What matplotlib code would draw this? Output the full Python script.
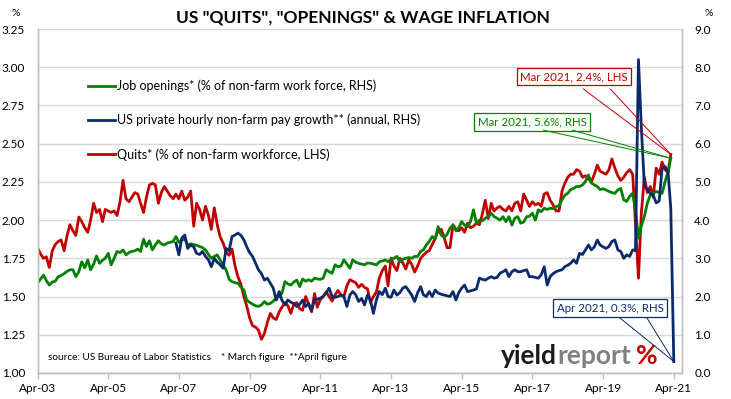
import matplotlib
matplotlib.use("Agg")
import matplotlib.pyplot as plt
import matplotlib.dates as mdates
from matplotlib.patches import ConnectionPatch
from matplotlib.lines import Line2D
import pandas as pd
import numpy as np

plt.rcParams['font.family'] = ['Lato', 'DejaVu Sans']

# ---------------- data (monthly) ----------------
start_month = "2003-04-01"

quits = [  # LHS, Apr-2003 .. Mar-2021
    1.82, 1.78, 1.75, 1.76, 1.69, 1.80, 1.84, 1.86, 1.87, 1.80, 1.90, 1.97,
    1.93, 1.90, 2.02, 1.99, 1.95, 1.92, 2.00, 2.11, 2.05, 2.07, 1.99, 2.07,
    2.06, 2.05, 2.06, 2.03, 2.12, 2.26, 2.14, 2.12, 2.15, 2.18, 2.17, 2.11,
    2.05, 2.15, 2.23, 2.24, 2.23, 2.11, 2.18, 2.22, 2.19, 2.16, 2.14, 2.17,
    2.14, 2.19, 2.13, 2.15, 2.19, 1.96, 2.11, 2.07, 2.00, 2.09, 2.03, 1.94,
    2.08, 1.97, 1.89, 1.85, 1.79, 1.77, 1.81, 1.70, 1.63, 1.58, 1.50, 1.44,
    1.36, 1.31, 1.30, 1.28, 1.22, 1.26, 1.33, 1.39, 1.36, 1.35, 1.40, 1.43,
    1.46, 1.44, 1.39, 1.45, 1.46, 1.42, 1.41, 1.50, 1.45, 1.40, 1.52, 1.43,
    1.48, 1.50, 1.53, 1.50, 1.47, 1.51, 1.54, 1.51, 1.50, 1.57, 1.61, 1.60,
    1.59, 1.56, 1.58, 1.56, 1.55, 1.46, 1.50, 1.53, 1.62, 1.67, 1.70, 1.57,
    1.75, 1.70, 1.67, 1.75, 1.72, 1.68, 1.74, 1.71, 1.66, 1.70, 1.75, 1.77,
    1.79, 1.80, 1.84, 1.88, 1.93, 1.94, 1.89, 1.82, 1.82, 1.97, 1.94, 1.93,
    1.95, 1.92, 1.98, 1.95, 1.96, 1.98, 1.97, 2.04, 2.13, 2.01, 2.11, 2.06,
    2.08, 2.09, 2.07, 2.06, 2.09, 2.06, 2.11, 2.12, 2.06, 2.17, 2.13, 2.09,
    2.12, 2.10, 2.11, 2.09, 2.17, 2.18, 2.13, 2.10, 2.06, 2.06, 2.19, 2.24,
    2.28, 2.30, 2.30, 2.33, 2.32, 2.28, 2.29, 2.27, 2.25, 2.30, 2.36, 2.32,
    2.31, 2.30, 2.33, 2.40, 2.34, 2.29, 2.26, 2.28, 2.31, 2.33, 2.30, 1.98,
    1.62, 2.05, 2.28, 2.18, 2.22, 2.15, 2.34, 2.30, 2.38, 2.33, 2.31, 2.43,
]

openings = [  # RHS, Apr-2003 .. Mar-2021
    2.35, 2.45, 2.56, 2.42, 2.30, 2.38, 2.40, 2.52, 2.55, 2.60, 2.66, 2.70,
    2.70, 2.52, 2.65, 2.91, 2.75, 2.96, 2.70, 2.85, 3.06, 2.87, 2.95, 3.00,
    3.13, 2.83, 3.00, 3.18, 3.15, 3.22, 3.09, 3.15, 3.18, 3.20, 3.24, 3.18,
    3.50, 3.31, 3.46, 3.22, 3.35, 3.46, 3.38, 3.35, 3.40, 3.42, 3.44, 3.57,
    3.42, 3.48, 3.50, 3.35, 3.38, 3.36, 3.34, 3.31, 3.28, 3.22, 3.10, 3.00,
    3.05, 3.09, 2.95, 2.83, 2.70, 2.45, 2.39, 2.36, 2.35, 2.25, 2.17, 1.91,
    1.85, 1.80, 1.76, 1.74, 1.78, 1.87, 1.80, 1.82, 1.88, 1.96, 2.00, 2.09,
    2.39, 2.33, 2.30, 2.38, 2.43, 2.26, 2.46, 2.40, 2.44, 2.40, 2.48, 2.46,
    2.45, 2.48, 2.70, 2.65, 2.61, 2.83, 2.78, 2.80, 2.96, 2.85, 2.74, 2.96,
    2.90, 2.87, 2.85, 2.83, 2.88, 2.87, 2.85, 2.83, 2.91, 2.93, 2.96, 2.91,
    2.98, 3.00, 3.05, 2.91, 2.98, 3.00, 3.02, 3.00, 3.05, 3.05, 3.18, 3.22,
    3.35, 3.44, 3.57, 3.50, 3.83, 3.61, 3.55, 3.62, 3.79, 3.87, 3.72, 3.80,
    3.96, 3.87, 3.83, 3.96, 4.27, 3.92, 4.00, 3.98, 4.05, 4.09, 4.18, 4.09,
    4.05, 4.00, 4.09, 3.96, 4.09, 3.87, 4.05, 4.09, 3.92, 3.95, 4.09, 4.10,
    4.18, 4.00, 4.27, 4.22, 4.31, 4.28, 4.31, 4.30, 4.35, 4.38, 4.53, 4.65,
    4.70, 4.80, 4.83, 4.88, 4.88, 4.92, 5.01, 5.18, 4.97, 4.92, 4.88, 4.80,
    4.82, 4.79, 4.75, 4.72, 4.70, 4.79, 4.83, 4.53, 4.49, 4.62, 4.70, 4.27,
    3.53, 3.85, 4.10, 4.44, 4.66, 4.70, 4.75, 4.72, 4.70, 5.01, 5.27, 5.62,
]

pay_start = "2007-03-01"
pay_growth = [  # RHS, Mar-2007 .. Apr-2021
    3.40,
    3.09, 3.53, 3.61, 3.26, 3.35, 3.30, 3.13, 3.10, 3.18, 3.05, 2.96, 2.78,
    3.00, 2.90, 2.83, 2.74, 3.26, 3.20, 3.57, 3.61, 3.66, 3.60, 3.48, 3.31,
    3.15, 3.05, 2.87, 2.70, 2.60, 2.43, 2.48, 2.35, 2.22, 1.91, 2.13, 1.90,
    1.78, 1.91, 1.85, 1.82, 1.74, 1.80, 1.91, 1.74, 1.82, 1.65, 1.91, 1.93,
    1.96, 2.00, 2.10, 2.22, 2.00, 1.98, 2.00, 2.04, 2.00, 1.74, 2.04, 2.13,
    2.05, 1.87, 1.95, 1.78, 2.04, 1.90, 1.56, 1.91, 2.13, 2.05, 2.22, 2.00,
    1.98, 2.17, 2.04, 2.10, 2.22, 2.26, 2.15, 2.04, 1.87, 2.10, 2.26, 2.05,
    2.00, 2.13, 2.00, 2.17, 2.09, 2.06, 2.04, 2.02, 2.00, 2.13, 1.91, 2.10,
    2.22, 2.30, 2.13, 2.15, 2.17, 2.20, 2.48, 2.45, 2.43, 2.48, 2.52, 2.48,
    2.50, 2.61, 2.65, 2.70, 2.52, 2.65, 2.70, 2.65, 2.65, 2.68, 2.70, 2.52,
    2.52, 2.50, 2.48, 2.57, 2.78, 2.30, 2.52, 2.60, 2.65, 2.68, 2.70, 2.78,
    2.82, 2.87, 2.96, 2.87, 3.13, 3.10, 3.22, 3.35, 3.22, 3.30, 3.48, 3.35,
    3.30, 3.26, 3.31, 3.44, 3.48, 3.22, 3.18, 3.00, 3.09, 3.05, 3.22, 3.20,
    8.20, 6.40, 4.90, 4.80, 4.70, 4.65, 4.45, 4.50, 5.35, 5.40, 5.25, 4.30,
    0.30,
]

tick_labels = ["Apr-03", "Apr-05", "Apr-07", "Apr-09", "Apr-11",
               "Apr-13", "Apr-15", "Apr-17", "Apr-19", "Apr-21"]
lhs_ticks = [1.00, 1.25, 1.50, 1.75, 2.00, 2.25, 2.50, 2.75, 3.00, 3.25]
rhs_ticks = [0, 1, 2, 3, 4, 5, 6, 7, 8, 9]

labels = ["Job openings* (% of non-farm work force, RHS)",
          "US private hourly non-farm pay growth** (annual, RHS)",
          "Quits* (% of non-farm workforce, LHS)"]

# ---------------- build ----------------
dates = mdates.date2num(pd.date_range(start_month, periods=len(quits), freq="MS").to_pydatetime())
pay_dates = mdates.date2num(pd.date_range(pay_start, periods=len(pay_growth), freq="MS").to_pydatetime())
tick_dates = mdates.date2num(pd.to_datetime(["20%s-04-01" % t[-2:] for t in tick_labels]).to_pydatetime())

RED = "#C00000"
GREEN = "#008000"
NAVY = "#0B2A6B"
GRID = "#D9D9D9"
SPINE = "#BFBFBF"

fig = plt.figure(figsize=(7.31, 3.99), dpi=100)
ax = fig.add_axes([0.0513, 0.0652, 0.8813, 0.8621])
ax2 = ax.twinx()

ax.set_ylim(1.0, 3.25)
ax2.set_ylim(0, 9)
ax.set_xlim(mdates.date2num(pd.Timestamp("2003-04-01").to_pydatetime()),
            mdates.date2num(pd.Timestamp("2021-06-22").to_pydatetime()))

ax.set_yticks(lhs_ticks)
ax.set_yticklabels(["%.2f" % v for v in lhs_ticks])
ax2.set_yticks(rhs_ticks)
ax2.set_yticklabels(["%.1f" % v for v in rhs_ticks])
ax.set_xticks(tick_dates)
ax.set_xticklabels(tick_labels)

ax.grid(axis="y", color=GRID, lw=1.0)
ax.set_axisbelow(True)
for a in (ax, ax2):
    a.spines["top"].set_visible(False)
    for s in ("left", "right", "bottom"):
        a.spines[s].set_color(SPINE)
        a.spines[s].set_linewidth(1.0)
ax.tick_params(axis="y", length=0, pad=9, labelsize=8.5, colors="#000000")
ax2.tick_params(axis="y", length=0, pad=9, labelsize=8.5, colors="#000000")
ax.tick_params(axis="x", length=4, width=1, color=SPINE, pad=3, labelsize=8.5)

ax.plot(dates, quits, color=RED, lw=2.0, solid_joinstyle="round")
ax2.plot(dates, openings, color=GREEN, lw=2.0, solid_joinstyle="round")
ax2.plot(pay_dates, pay_growth, color=NAVY, lw=2.0, solid_joinstyle="round")

# legend
handles = [Line2D([], [], color=GREEN, lw=2.0),
           Line2D([], [], color=NAVY, lw=2.0),
           Line2D([], [], color=RED, lw=2.0)]
ax2.legend(handles, labels, loc="upper left", bbox_to_anchor=(0.07, 0.868),
           frameon=False, fontsize=9, handlelength=2.2, handletextpad=0.15,
           labelspacing=1.75, borderaxespad=0)

# title and unit labels
fig.text(0.497, 0.957, 'US "QUITS", "OPENINGS" & WAGE INFLATION', ha="center",
         va="center", fontsize=12.5, fontweight="bold")
fig.text(0.021, 0.965, "%", ha="center", va="center", fontsize=7.5)
fig.text(0.969, 0.965, "%", ha="center", va="center", fontsize=7.5)

# source
ax.text(0.017, 0.045, "source: US Bureau of Labor Statistics    * March figure  **April figure",
        transform=ax.transAxes, fontsize=7.2, va="center", ha="left")

# logo
logo_y = 0.048
t1 = ax.text(0.720, logo_y, "yield", transform=ax.transAxes, fontsize=19,
             fontweight="bold", color="#1A1A1A", va="center", ha="left")
fig.canvas.draw()
r = fig.canvas.get_renderer()
bb = t1.get_window_extent(r).transformed(ax.transAxes.inverted())
t2 = ax.text(bb.x1, logo_y, "report", transform=ax.transAxes, fontsize=19,
             fontweight="bold", color="#808080", va="center", ha="left")
bb2 = t2.get_window_extent(r).transformed(ax.transAxes.inverted())
ax.text(bb2.x1 + 0.008, logo_y, "%", transform=ax.transAxes, fontsize=19,
        fontweight="bold", color="#C00000", va="center", ha="left")

# callouts
def callout(text, color, cx, cy, pts, target, tax):
    ax2.text(cx, cy, text, transform=ax.transAxes, ha="center", va="center",
             fontsize=8.3, color=color, zorder=10,
             bbox=dict(boxstyle="square,pad=0.3", fc="white", ec=color, lw=0.9))
    for p in pts:
        con = ConnectionPatch(xyA=p, coordsA=ax.transAxes, xyB=target,
                              coordsB=tax.transData, color=color, lw=0.7,
                              zorder=9)
        fig.add_artist(con)

callout("Mar 2021, 2.4%, LHS", RED, 0.833, 0.862,
        [(0.847, 0.826), (0.889, 0.826)], (dates[-1], quits[-1]), ax)
callout("Mar 2021, 5.6%, RHS", GREEN, 0.768, 0.730,
        [(0.785, 0.706), (0.830, 0.706)], (dates[-1], openings[-1]), ax2)
callout("Apr 2021, 0.3%, RHS", NAVY, 0.889, 0.188,
        [(0.904, 0.160), (0.946, 0.160)], (pay_dates[-1], pay_growth[-1]), ax2)

fig.savefig("out.png", dpi=100)
